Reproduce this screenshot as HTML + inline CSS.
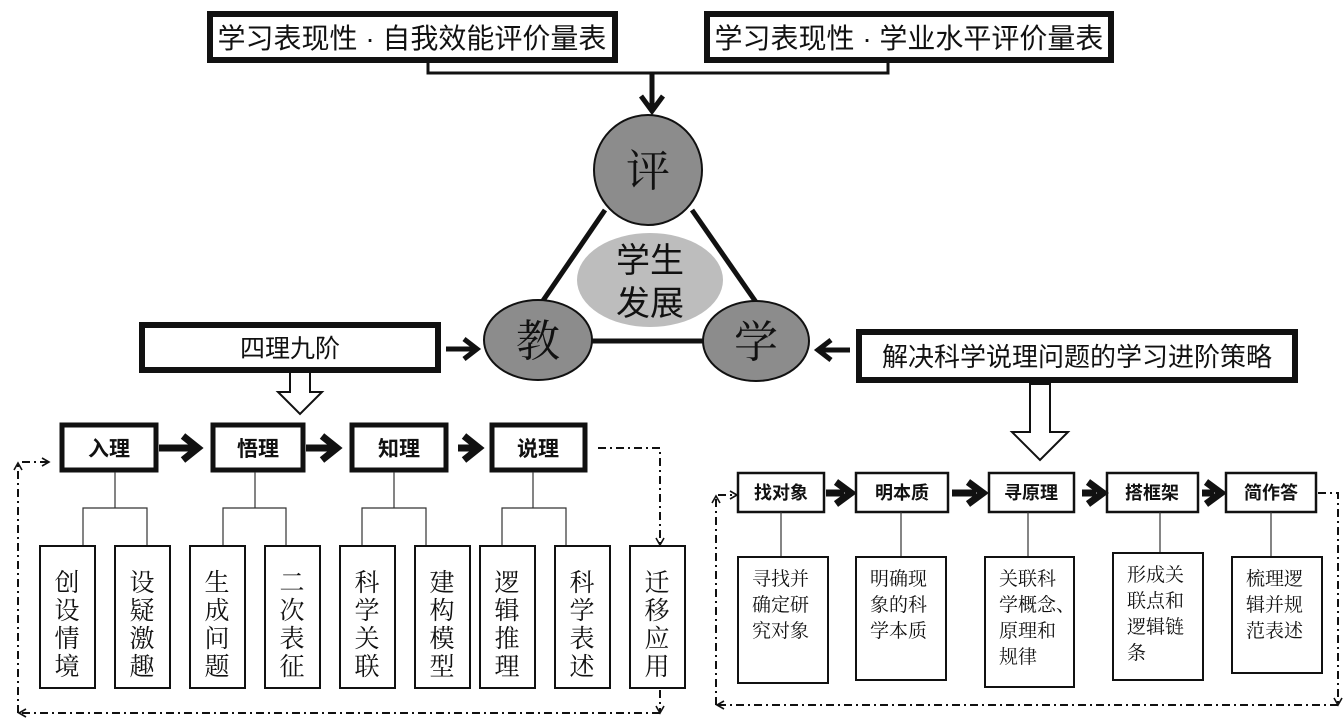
<!DOCTYPE html>
<html><head><meta charset="utf-8"><style>
body{margin:0;background:#fff;}
svg{display:block;}
text{font-family:"Liberation Sans","Noto Sans CJK SC",sans-serif;fill:#111;}
.s{font-family:"Liberation Serif","Noto Serif CJK SC",serif;}
</style></head><body>
<svg width="1344" height="723" viewBox="0 0 1344 723" xmlns="http://www.w3.org/2000/svg">
<defs>
<marker id="ah" markerWidth="10" markerHeight="10" refX="7" refY="5" orient="auto" markerUnits="userSpaceOnUse"><path d="M1,1 L8,5 L1,9" fill="none" stroke="#111" stroke-width="1.6"/></marker>
</defs>
<!-- top boxes -->
<rect x="210" y="14" width="405" height="46" fill="#fff" stroke="#111" stroke-width="6"/>
<text x="412" y="48" font-size="28" text-anchor="middle">学习表现性 · 自我效能评价量表</text>
<rect x="707" y="14" width="404" height="46" fill="#fff" stroke="#111" stroke-width="6"/>
<text x="909" y="48" font-size="28" text-anchor="middle">学习表现性 · 学业水平评价量表</text>
<path d="M428,62 V73 H888 V62" fill="none" stroke="#111" stroke-width="3"/>
<line x1="652" y1="73" x2="652" y2="110" stroke="#111" stroke-width="5"/>
<path d="M641,96 L652,111 L663,96" fill="none" stroke="#111" stroke-width="5"/>
<!-- triangle -->
<line x1="605" y1="210" x2="540" y2="305" stroke="#111" stroke-width="5"/>
<line x1="692" y1="210" x2="758" y2="305" stroke="#111" stroke-width="5"/>
<line x1="590" y1="341" x2="705" y2="341" stroke="#111" stroke-width="5"/>
<ellipse cx="650" cy="280" rx="73" ry="47" fill="#bdbdbd"/>
<text x="650" y="272" font-size="34" text-anchor="middle">学生</text>
<text x="650" y="315" font-size="34" text-anchor="middle">发展</text>
<ellipse cx="648" cy="170" rx="54" ry="55" fill="#8c8c8c" stroke="#111" stroke-width="2"/>
<text class="s" x="648" y="186" font-size="44" text-anchor="middle">评</text>
<ellipse cx="538" cy="340" rx="54" ry="40" fill="#8c8c8c" stroke="#111" stroke-width="2"/>
<text class="s" x="538" y="356" font-size="44" text-anchor="middle">教</text>
<ellipse cx="756" cy="341" rx="53" ry="40" fill="#8c8c8c" stroke="#111" stroke-width="2"/>
<text class="s" x="756" y="357" font-size="44" text-anchor="middle">学</text>
<!-- side boxes -->
<rect x="142" y="325" width="296" height="45" fill="#fff" stroke="#111" stroke-width="6"/>
<text x="290" y="357" font-size="25" text-anchor="middle">四理九阶</text>
<line x1="446" y1="349" x2="474" y2="349" stroke="#111" stroke-width="5"/>
<path d="M464,339 L477,349 L464,359" fill="none" stroke="#111" stroke-width="5"/>
<rect x="859" y="332" width="436" height="48" fill="#fff" stroke="#111" stroke-width="6"/>
<text x="1077" y="366" font-size="26" text-anchor="middle">解决科学说理问题的学习进阶策略</text>
<line x1="850" y1="350" x2="820" y2="350" stroke="#111" stroke-width="5"/>
<path d="M831,340 L818,350 L831,360" fill="none" stroke="#111" stroke-width="5"/>
<!-- hollow arrows -->
<path d="M290,372 H310 V392 H322 L300,414 L278,392 H290 Z" fill="#fff" stroke="#111" stroke-width="2"/>
<path d="M1030,384 H1050 V432 H1068 L1040,460 L1012,432 H1030 Z" fill="#fff" stroke="#111" stroke-width="2"/>
<!-- left flow -->
<g stroke="#111" stroke-width="5" fill="#fff">
<rect x="62" y="425" width="94" height="45"/>
<rect x="213" y="425" width="90" height="45"/>
<rect x="352" y="425" width="94" height="45"/>
<rect x="492" y="425" width="93" height="45"/>
</g>
<g font-size="21" font-weight="bold" text-anchor="middle">
<text x="109" y="456">入理</text><text x="258" y="456">悟理</text><text x="399" y="456">知理</text><text x="538" y="456">说理</text>
</g>
<g stroke="#111" stroke-width="7" fill="none">
<line x1="159" y1="448" x2="194" y2="448"/><path d="M183,436 L198,448 L183,460"/>
<line x1="306" y1="448" x2="333" y2="448"/><path d="M322,436 L337,448 L322,460"/>
<line x1="458" y1="448" x2="474" y2="448"/><path d="M464,436 L479,448 L464,460"/>
</g>
<g stroke="#333" stroke-width="1.2" fill="none">
<path d="M115,472 V508 M83,546 V508 H147 V546"/>
<path d="M255,472 V508 M223,546 V508 H286 V546"/>
<path d="M394,472 V508 M362,546 V508 H426 V546"/>
<path d="M533,472 V508 M502,546 V508 H566 V546"/>
</g>
<g stroke="#111" stroke-width="2" fill="#fff">
<rect x="40" y="546" width="55" height="142"/><rect x="115" y="546" width="55" height="142"/>
<rect x="190" y="546" width="55" height="142"/><rect x="265" y="546" width="55" height="142"/>
<rect x="340" y="546" width="55" height="142"/><rect x="415" y="546" width="55" height="142"/>
<rect x="480" y="546" width="55" height="142"/><rect x="555" y="546" width="55" height="142"/>
<rect x="630" y="546" width="55" height="142"/>
</g>
<g font-size="25" text-anchor="middle">
<text x="67" y="591" class="s">创</text><text x="67" y="619" class="s">设</text><text x="67" y="647" class="s">情</text><text x="67" y="675" class="s">境</text>
<text x="142" y="591" class="s">设</text><text x="142" y="619" class="s">疑</text><text x="142" y="647" class="s">激</text><text x="142" y="675" class="s">趣</text>
<text x="217" y="591" class="s">生</text><text x="217" y="619" class="s">成</text><text x="217" y="647" class="s">问</text><text x="217" y="675" class="s">题</text>
<text x="292" y="591" class="s">二</text><text x="292" y="619" class="s">次</text><text x="292" y="647" class="s">表</text><text x="292" y="675" class="s">征</text>
<text x="367" y="591" class="s">科</text><text x="367" y="619" class="s">学</text><text x="367" y="647" class="s">关</text><text x="367" y="675" class="s">联</text>
<text x="442" y="591" class="s">建</text><text x="442" y="619" class="s">构</text><text x="442" y="647" class="s">模</text><text x="442" y="675" class="s">型</text>
<text x="507" y="591" class="s">逻</text><text x="507" y="619" class="s">辑</text><text x="507" y="647" class="s">推</text><text x="507" y="675" class="s">理</text>
<text x="582" y="591" class="s">科</text><text x="582" y="619" class="s">学</text><text x="582" y="647" class="s">表</text><text x="582" y="675" class="s">述</text>
<text x="657" y="591" class="s">迁</text><text x="657" y="619" class="s">移</text><text x="657" y="647" class="s">应</text><text x="657" y="675" class="s">用</text>
</g>
<g stroke="#111" stroke-width="2" fill="none" stroke-dasharray="8,4,2,4">
<path d="M598,448 H660 V544" marker-end="url(#ah)"/>
<path d="M660,690 V712" marker-end="url(#ah)"/>
<path d="M660,713 H20" marker-end="url(#ah)"/>
<path d="M18,713 V464" marker-end="url(#ah)"/>
<path d="M22,462 H48" marker-end="url(#ah)"/>
</g>
<!-- right flow -->
<g stroke="#111" stroke-width="2.5" fill="#fff">
<rect x="738" y="473" width="86" height="39"/>
<rect x="856" y="473" width="92" height="39"/>
<rect x="989" y="473" width="85" height="39"/>
<rect x="1107" y="473" width="91" height="39"/>
<rect x="1226" y="473" width="90" height="39"/>
</g>
<g font-size="18" font-weight="bold" text-anchor="middle">
<text x="781" y="499">找对象</text><text x="902" y="499">明本质</text><text x="1031" y="499">寻原理</text><text x="1152" y="499">搭框架</text><text x="1271" y="499">简作答</text>
</g>
<g stroke="#111" stroke-width="7" fill="none">
<line x1="826" y1="493" x2="844" y2="493"/><path d="M836,482 L851,493 L836,504"/>
<line x1="952" y1="493" x2="976" y2="493"/><path d="M968,482 L983,493 L968,504"/>
<line x1="1082" y1="493" x2="1096" y2="493"/><path d="M1088,482 L1103,493 L1088,504"/>
<line x1="1202" y1="493" x2="1214" y2="493"/><path d="M1206,482 L1221,493 L1206,504"/>
</g>
<g stroke="#333" stroke-width="1.2">
<line x1="781" y1="512" x2="781" y2="557"/><line x1="901" y1="512" x2="901" y2="557"/>
<line x1="1028" y1="512" x2="1028" y2="557"/><line x1="1160" y1="512" x2="1160" y2="553"/>
<line x1="1271" y1="512" x2="1271" y2="557"/>
</g>
<g stroke="#111" stroke-width="2" fill="#fff">
<rect x="738" y="557" width="90" height="126"/>
<rect x="856" y="557" width="90" height="123"/>
<rect x="985" y="557" width="89" height="130"/>
<rect x="1113" y="553" width="90" height="127"/>
<rect x="1232" y="557" width="90" height="116"/>
</g>
<g font-size="19">
<text x="752" y="585" class="s">寻找并</text><text x="752" y="611" class="s">确定研</text><text x="752" y="637" class="s">究对象</text>
<text x="870" y="585" class="s">明确现</text><text x="870" y="611" class="s">象的科</text><text x="870" y="637" class="s">学本质</text>
<text x="999" y="585" class="s">关联科</text><text x="999" y="611" class="s">学概念、</text><text x="999" y="637" class="s">原理和</text><text x="999" y="663" class="s">规律</text>
<text x="1127" y="581" class="s">形成关</text><text x="1127" y="607" class="s">联点和</text><text x="1127" y="633" class="s">逻辑链</text><text x="1127" y="659" class="s">条</text>
<text x="1246" y="585" class="s">梳理逻</text><text x="1246" y="611" class="s">辑并规</text><text x="1246" y="637" class="s">范表述</text>
</g>
<g stroke="#111" stroke-width="2" fill="none" stroke-dasharray="8,4,2,4">
<path d="M1318,493 H1338 V704" marker-end="url(#ah)"/>
<path d="M1338,705 H718" marker-end="url(#ah)"/>
<path d="M716,705 V497" marker-end="url(#ah)"/>
<path d="M718,495 H736" marker-end="url(#ah)"/>
</g>
</svg>
</body></html>
